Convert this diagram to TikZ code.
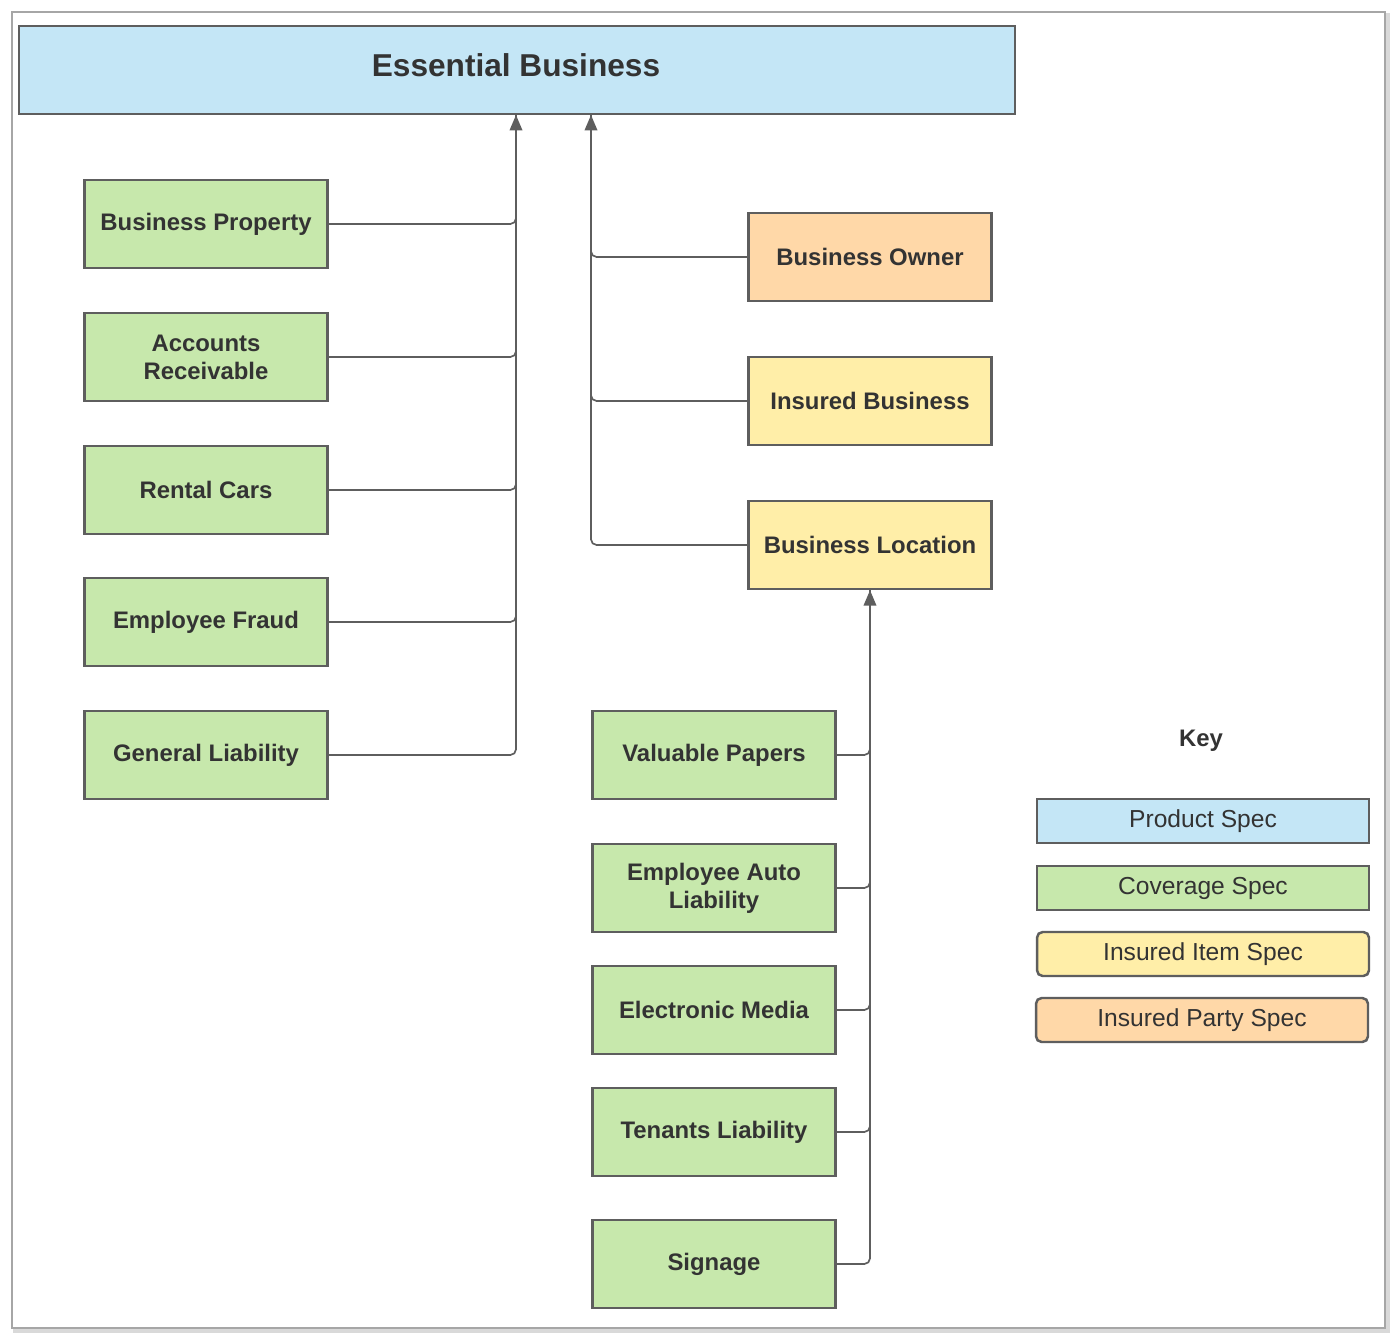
\documentclass[tikz,border=0pt]{standalone}
\usepackage{fontspec}
\setmainfont{Liberation Sans}
\usetikzlibrary{arrows.meta}
\definecolor{prodblue}{HTML}{C4E6F6}
\definecolor{covgreen}{HTML}{C7E8AC}
\definecolor{itemyellow}{HTML}{FFEEA8}
\definecolor{partyorange}{HTML}{FFD8A8}
\definecolor{edge}{HTML}{5E5E5E}
\definecolor{ink}{HTML}{333333}
\tikzset{
  box/.style={draw=edge, line width=3.5pt, minimum width=12.15cm, minimum height=4.4cm, inner sep=0pt,
    align=center, text=ink, font=\fontsize{34}{40}\selectfont\bfseries},
  cov/.style={box, fill=covgreen},
  item/.style={box, fill=itemyellow},
  party/.style={box, fill=partyorange},
  keybox/.style={draw=edge, line width=3.5pt, minimum width=16.6cm, minimum height=2.2cm, inner sep=0pt,
    text=ink, font=\fontsize{35}{40}\selectfont},
  link/.style={draw=edge, line width=2.4pt, rounded corners=8},
  tip/.style={-{Triangle[length=22pt,width=18pt]}}
}
\begin{document}
\begin{tikzpicture}[x=0.05cm,y=-0.05cm]
\useasboundingbox (0,0) rectangle (1400,1344);
\draw[gray!30, line width=5pt] (15,15) rectangle (1388,1331);
\draw[gray!70, line width=1.5pt, fill=white] (12,12) rectangle (1385,1328);
% product
\node[box, fill=prodblue, minimum width=49.8cm, minimum height=4.4cm, anchor=north west] (eb) at (18,25) {};
\node[text=ink, font=\fontsize{45}{50}\selectfont\bfseries] at (516,65) {Essential Business};
% coverages on the left
\node[cov] (bp) at (206,224) {Business Property};
\node[cov] (ar) at (206,357) {Accounts\\Receivable};
\node[cov] (rc) at (206,490) {Rental Cars};
\node[cov] (ef) at (206,622) {Employee Fraud};
\node[cov] (gl) at (206,755) {General Liability};
% insured items and parties
\node[party] (bo) at (870,257) {Business Owner};
\node[item] (ib) at (870,401) {Insured Business};
\node[item] (bl) at (870,545) {Business Location};
% coverages on the location
\node[cov] (vp) at (714,755) {Valuable Papers};
\node[cov] (ea) at (714,888) {Employee Auto\\Liability};
\node[cov] (em) at (714,1010) {Electronic Media};
\node[cov] (tl) at (714,1132) {Tenants Liability};
\node[cov] (sg) at (714,1264) {Signage};
% connectors
\coordinate (sL) at (516,115);
\coordinate (sR) at (591,115);
\foreach \n in {bp,ar,rc,ef}
  \draw[link] (\n.east) -| (sL);
\draw[link, tip] (gl.east) -| (sL);
\foreach \n in {bo,ib}
  \draw[link] (\n.west) -| (sR);
\draw[link, tip] (bl.west) -| (sR);
\foreach \n in {vp,ea,em,tl}
  \draw[link] (\n.east) -| (bl.south);
\draw[link, tip] (sg.east) -| (bl.south);
% key
\node[text=ink, font=\fontsize{34}{40}\selectfont\bfseries] (key) at (1201,741) {Key};
\node[keybox, fill=prodblue] (k1) at (1203,821) {Product Spec};
\node[keybox, fill=covgreen] (k2) at (1203,888) {Coverage Spec};
\node[keybox, fill=itemyellow, rounded corners=8] (k3) at (1203,954) {Insured Item Spec};
\node[keybox, fill=partyorange, rounded corners=8] (k4) at (1202,1020) {Insured Party Spec};
\end{tikzpicture}
\end{document}
